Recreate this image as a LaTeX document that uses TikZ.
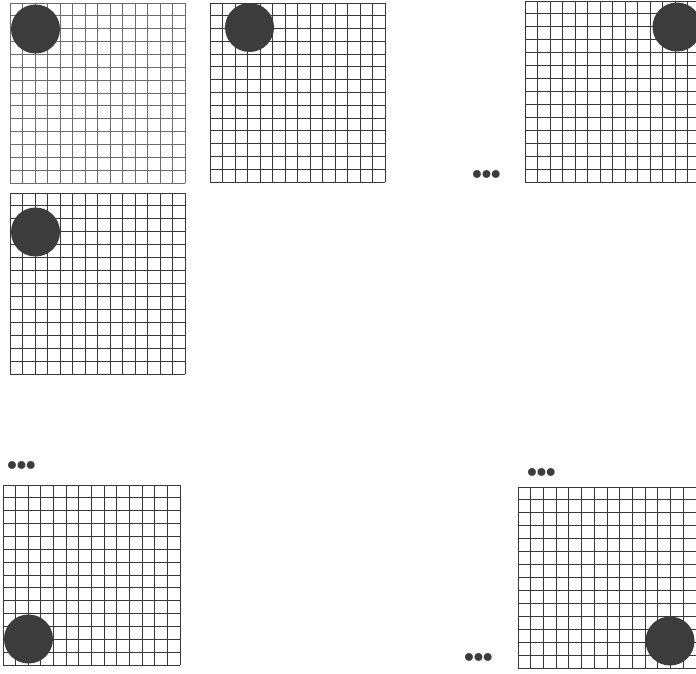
\documentclass[tikz,border=0pt]{standalone}
\usepackage{fontspec}
\newfontfamily\dotfont{DejaVu Sans}
\definecolor{stone}{HTML}{3C3C3C}
\tikzset{
  gridline/.style={line width=0.9pt, draw=black!78},
  gridlight/.style={line width=0.9pt, draw=black!58},
  stonenode/.style={circle, fill=stone, draw=none, minimum size=49pt, inner sep=0pt},
  dotsnode/.style={font=\dotfont\fontsize{27}{27}\selectfont, text=stone, inner sep=0pt}
}
\newcommand\board[5]{%
  \foreach \i in {0,...,14}{%
    \draw[#5] ({#1+\i*(#3-#1)/14},#2) -- ({#1+\i*(#3-#1)/14},#4);
    \draw[#5] (#1,{#2+\i*(#4-#2)/14}) -- (#3,{#2+\i*(#4-#2)/14});
  }%
}
\newcommand\tridots{•\kern-6.5pt•\kern-6.5pt•}
\begin{document}
\begin{tikzpicture}[x=1pt,y=-1pt]
\useasboundingbox (0,0) rectangle (696,673);
\clip (0,0) rectangle (696,673);
\fill[white] (0,0) rectangle (696,673);
% boards
\board{10}{3}{185}{183}{gridlight}
\board{210}{3}{385}{182}{gridline}
\board{525}{1}{700}{182}{gridline}
\board{10}{193}{185}{374}{gridline}
\board{3}{485}{180}{665}{gridline}
\board{518}{487}{696}{668}{gridline}
% stones
\node[stonenode] (s1) at (35.5,29) {};
\node[stonenode] (s2) at (249.5,27.5) {};
\node[stonenode] (s3) at (677,27) {};
\node[stonenode] (s4) at (35.5,232) {};
\node[stonenode] (s5) at (28.5,639) {};
\node[stonenode] (s6) at (670,641) {};
% ellipses
\node[dotsnode] (d1) at (486.5,178) {\tridots};
\node[dotsnode] (d2) at (21.5,469) {\tridots};
\node[dotsnode] (d3) at (541.5,476) {\tridots};
\node[dotsnode] (d4) at (478.5,661) {\tridots};
\end{tikzpicture}
\end{document}
